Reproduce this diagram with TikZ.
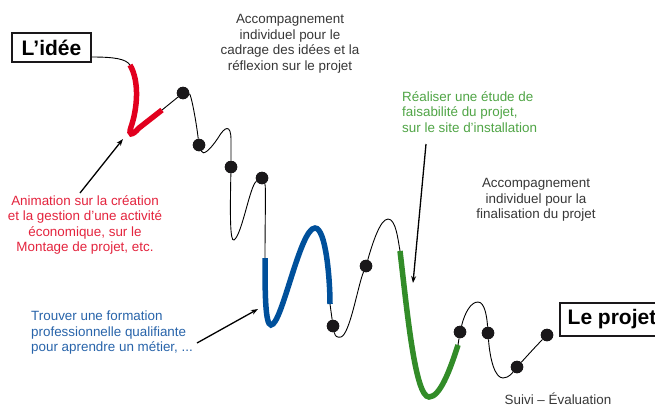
\documentclass[tikz,border=0pt]{standalone}
\usepackage{fontspec}
\setmainfont{Liberation Sans}
\usetikzlibrary{arrows.meta}
\definecolor{txtgray}{RGB}{55,55,55}
\definecolor{dotblack}{RGB}{26,24,26}
\definecolor{redtxt}{RGB}{228,36,62}
\definecolor{redline}{RGB}{226,0,30}
\definecolor{bluetxt}{RGB}{40,100,170}
\definecolor{blueline}{RGB}{0,80,155}
\definecolor{greentxt}{RGB}{80,165,70}
\definecolor{greenline}{RGB}{50,140,40}
\begin{document}
\begin{tikzpicture}[x=1pt,y=-1pt,
  dot/.style={circle,fill=dotblack,inner sep=0pt,minimum size=12.5pt},
  curveline/.style={line width=0.9pt,black},
  thickred/.style={line width=5.5pt,redline},
  thickblue/.style={line width=5.5pt,blueline},
  thickgreen/.style={line width=5.5pt,greenline},
  lbl/.style={font=\fontsize{13.4}{15.5}\selectfont,inner sep=0pt},
  titlebox/.style={draw=dotblack,line width=1.3pt,inner sep=0pt,font=\bfseries\fontsize{21}{24}\selectfont},
  pointer/.style={line width=1.3pt,black,-{Stealth[length=7pt,width=5pt]}}
]
\useasboundingbox (0,0) rectangle (655,407);
\fill[white] (0,0) rectangle (655,407);

% title boxes
\node[titlebox,minimum width=79pt,minimum height=29pt] (idee) at (51.5,47.5) {L’idée};
\node[titlebox,minimum width=104pt,minimum height=33pt] (projet) at (612,319.5) {Le projet};

% coordinates along the curve
\coordinate (c0) at (92,57);
\coordinate (r0) at (130,65);
\coordinate (r1) at (162,110);
\coordinate (b0) at (265,258);
\coordinate (b1) at (330,304);
\coordinate (g0) at (400,251);
\coordinate (g1) at (458,345);

% dots
\node[dot] (d1) at (183,93) {};
\node[dot] (d2) at (199,145) {};
\node[dot] (d3) at (231,167) {};
\node[dot] (d4) at (262,178) {};
\node[dot] (d5) at (333,326) {};
\node[dot] (d6) at (366,266) {};
\node[dot] (d7) at (460,332) {};
\node[dot] (d8) at (488,333) {};
\node[dot] (d9) at (517,367) {};
\node[dot] (d10) at (547,335) {};

% thin curve
\draw[curveline] (c0) .. controls (115,57) and (126,59) .. (r0);
\draw[curveline] (r1) -- (d1);
\draw[curveline] (d1) .. controls (191,94) and (196,120) .. (d2);
\draw[curveline] (d2) .. controls (203,156) and (210,150) .. (218,138) .. controls (225,126) and (231,124) .. (231,140) -- (d3);
\draw[curveline] (d3) .. controls (230,215) and (230,242) .. (234,240) .. controls (242,235) and (250,185) .. (d4);
\draw[curveline] (d4) .. controls (266,186) and (265,220) .. (b0);
\draw[curveline] (b1) -- (d5);
\draw[curveline] (d5) .. controls (335,336) and (337,338) .. (341,337) .. controls (350,334) and (358,285) .. (d6);
\draw[curveline] (d6) .. controls (372,245) and (380,219) .. (388,219) .. controls (396,219) and (398,240) .. (g0);
\draw[curveline] (g1) -- (d7);
\draw[curveline] (d7) .. controls (465,312) and (471,302) .. (478,302) .. controls (485,302) and (487,318) .. (d8);
\draw[curveline] (d8) .. controls (490,360) and (495,378) .. (503,378) .. controls (509,378) and (513,372) .. (d9);
\draw[curveline] (d9) .. controls (527,356) and (537,345) .. (d10);

% thick coloured parts
\draw[thickred,line cap=butt] (r0) .. controls (140,82) and (137,110) .. (131,127) .. controls (128,136) and (132,136) .. (139,128) -- (r1);
\draw[thickblue] (b0) .. controls (265,290) and (265,325) .. (271,325) .. controls (282,325) and (300,228) .. (315,228) .. controls (326,228) and (330,280) .. (b1);
\draw[thickgreen] (g0) .. controls (407,310) and (415,397) .. (429,397) .. controls (440,397) and (450,370) .. (g1);

% redraw dots on top
\foreach \n in {d1,d2,d3,d4,d5,d6,d7,d8,d9,d10} \fill[dotblack] (\n) circle (6.2pt);

% labels
\node[lbl,txtgray,align=center] (t1) at (290,44) {Accompagnement\\individuel pour le\\cadrage des idées et la\\réflexion sur le projet};
\node[lbl,redtxt,align=center] (t2) at (85,225) {Animation sur la création\\et la gestion d’une activité\\économique, sur le\\Montage de projet, etc.};
\node[lbl,bluetxt,align=left,anchor=west] (t3) at (31,333) {Trouver une formation\\professionnelle qualifiante\\pour aprendre un métier, ...};
\node[lbl,greentxt,align=left,anchor=west] (t4) at (402,112) {Réaliser une étude de\\faisabilité du projet,\\sur le site d’installation};
\node[lbl,txtgray,align=center] (t5) at (536,200) {Accompagnement\\individuel pour la\\finalisation du projet};
\node[lbl,txtgray] (t6) at (558,398.5) {Suivi – Évaluation};

% pointers
\coordinate (a1s) at (80,193);
\coordinate (a1e) at (123,139);
\coordinate (a2s) at (197,343);
\coordinate (a2e) at (258,309);
\coordinate (a3s) at (426,144);
\coordinate (a3e) at (413,283);
\draw[pointer] (a1s) -- (a1e);
\draw[pointer] (a2s) -- (a2e);
\draw[pointer] (a3s) -- (a3e);
\end{tikzpicture}
\end{document}
